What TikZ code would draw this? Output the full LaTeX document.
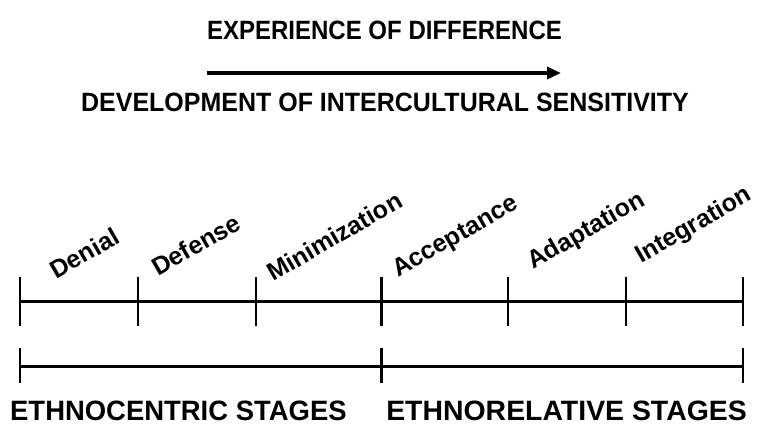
\documentclass[tikz,border=0pt]{standalone}
\usepackage{fontspec}
\setmainfont{Liberation Sans}
\usetikzlibrary{arrows.meta}
\begin{document}
\begin{tikzpicture}[x=1pt,y=-1pt,
  title/.style={font=\fontsize{24.5}{28}\selectfont\bfseries, inner sep=0pt, yscale=1.08},
  group/.style={font=\fontsize{28}{32}\selectfont\bfseries, inner sep=0pt},
  stage/.style={font=\fontsize{25}{28}\selectfont\bfseries, rotate=30, anchor=base west, inner sep=0pt},
  axis/.style={line width=3pt},
  tick/.style={line width=2.6pt},
  bigarrow/.style={line width=3.5pt, -{Triangle[length=14pt,width=12pt]}}]
\useasboundingbox (0,0) rectangle (761,428);
% titles
\node[title, xscale=0.98] (t1) at (384.5,30) {EXPERIENCE OF DIFFERENCE};
\node[title, xscale=1.02] (t2) at (385,102) {DEVELOPMENT OF INTERCULTURAL SENSITIVITY};
% arrow
\coordinate (a0) at (207,73);
\coordinate (a1) at (561,73);
\draw[bigarrow] (a0) -- (a1);
% stage axis
\coordinate (p0) at (20,301);
\coordinate (p1) at (138,301);
\coordinate (p2) at (256,301);
\coordinate (p3) at (381.5,301);
\coordinate (p4) at (508,301);
\coordinate (p5) at (626,301);
\coordinate (p6) at (743,301);
\draw[axis] (p0) -- (p6);
\foreach \p in {p0,p1,p2,p3,p4,p5,p6}
  \draw[tick] ([yshift=-25pt]\p) -- ([yshift=24pt]\p);
% group axis
\coordinate (q0) at (20,366);
\coordinate (q1) at (381.5,366);
\coordinate (q2) at (743,366);
\draw[axis] (q0) -- (q2);
\foreach \q in {q0,q1,q2}
  \draw[tick] ([yshift=-17pt]\q) -- ([yshift=18pt]\q);
% stage labels
\node[stage] (s1) at (56,280) {Denial};
\node[stage] (s2) at (158,277) {Defense};
\node[stage] (s3) at (273,282) {Minimization};
\node[stage] (s4) at (398,278) {Acceptance};
\node[stage] (s5) at (533,270) {Adaptation};
\node[stage] (s6) at (641,264) {Integration};
% group labels
\node[group, anchor=west, xscale=0.98] (g1) at (10,411) {ETHNOCENTRIC STAGES};
\node[group, anchor=east, xscale=1.015] (g2) at (747,411) {ETHNORELATIVE STAGES};
\end{tikzpicture}
\end{document}
